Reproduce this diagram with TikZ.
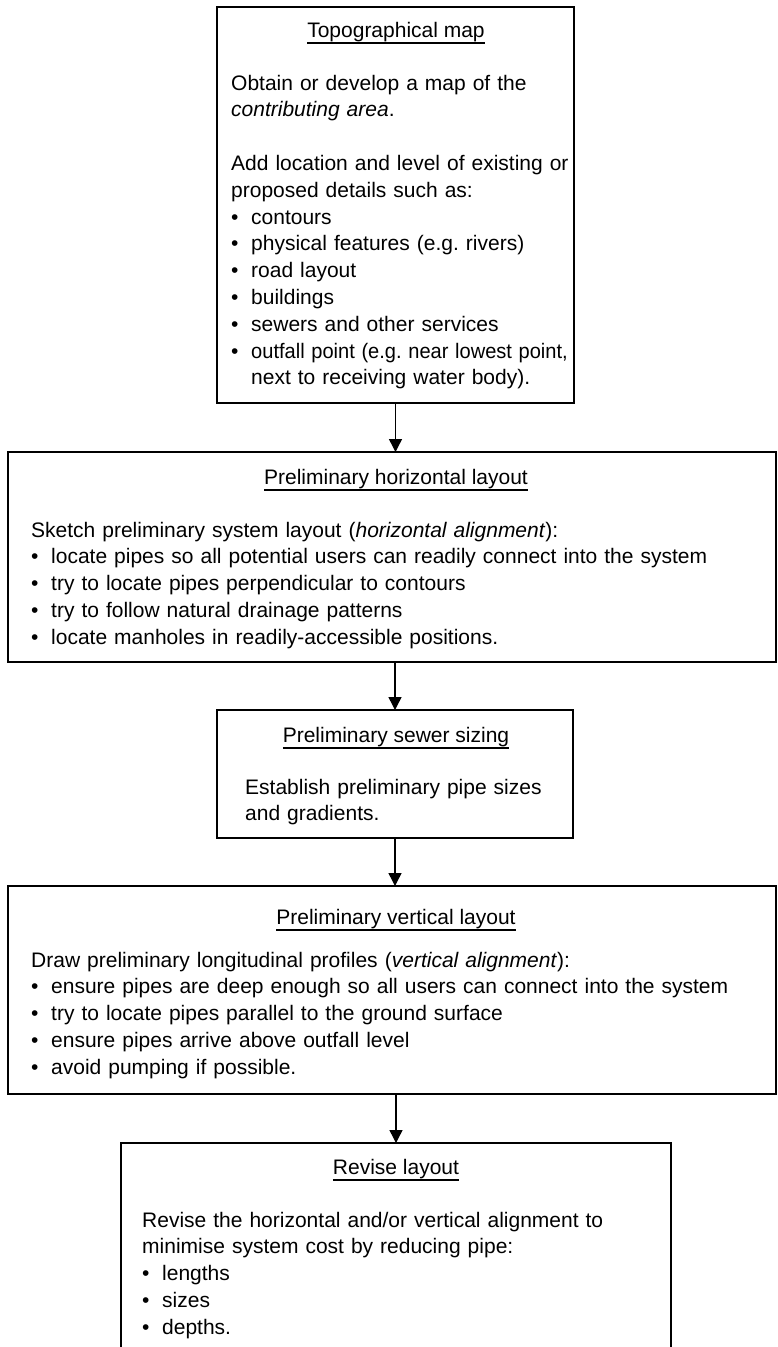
\documentclass[tikz,border=0pt]{standalone}
\usepackage{fontspec}
\usepackage{graphicx}
\setmainfont{Liberation Sans}
\usetikzlibrary{arrows.meta}
\frenchspacing
\newsavebox\ttlbox
\newcommand{\ttl}[1]{\sbox\ttlbox{#1}\rlap{\rule[-7pt]{\wd\ttlbox}{2.4pt}}\usebox\ttlbox}
\newcommand{\bul}{\makebox[20pt][l]{\textbullet}}
\newcommand{\ind}{\hspace*{20pt}}
\tikzset{
  box/.style={draw, line width=1.4pt, inner sep=0pt, outer sep=0pt, anchor=north west},
  openbox/.style={draw=none, inner sep=0pt, outer sep=0pt, anchor=north west},
  sides/.style={line width=1.4pt},
  ttlnode/.style={anchor=base, inner sep=0pt, font=\fontsize{21pt}{26.8pt}\selectfont},
  body/.style={anchor=base west, inner sep=0pt, align=left, text width=740pt, font=\fontsize{21pt}{26.8pt}\selectfont\frenchspacing},
  arr/.style={line width=1.4pt, -{Triangle[length=13pt,width=13pt]}}
}
\begin{document}
\begin{tikzpicture}[x=1pt,y=-1pt]
\useasboundingbox (0,0) rectangle (778,1347);
% boxes
\node[box, minimum width=357pt, minimum height=396pt] (b1) at (217,7) {};
\node[box, minimum width=768pt, minimum height=210pt] (b2) at (8,452) {};
\node[box, minimum width=356pt, minimum height=128pt] (b3) at (217,710) {};
\node[box, minimum width=768pt, minimum height=208pt] (b4) at (8,886) {};
\node[openbox, minimum width=550pt, minimum height=204pt] (b5) at (121,1143) {};
\draw[sides] (b5.south west) |- (b5.north east) -- (b5.south east);
% box 1
\node[ttlnode] (t1) at (396,37) {\ttl{Topographical map}};
\node[body] (x1) at (231,90) {Obtain or develop a map of the\\
\textit{contributing area}.\\[26.8pt]
Add location and level of existing or\\
proposed details such as:\\
\bul contours\\
\bul physical features (e.g. rivers)\\
\bul road layout\\
\bul buildings\\
\bul sewers and other services\\
\bul \scalebox{0.955}[1]{outfall point (e.g. near lowest point,}\\
\ind next to receiving water body).};
% box 2
\node[ttlnode] (t2) at (396,484) {\ttl{Preliminary horizontal layout}};
\node[body] (x2) at (31,537) {Sketch preliminary system layout (\textit{horizontal alignment}):\\
\bul locate pipes so all potential users can readily connect into the system\\
\bul try to locate pipes perpendicular to contours\\
\bul try to follow natural drainage patterns\\
\bul locate manholes in readily-accessible positions.};
% box 3
\node[ttlnode] (t3) at (396,742) {\ttl{Preliminary sewer sizing}};
\node[body] (x3) at (245,794) {Establish preliminary pipe sizes\\
and gradients.};
% box 4
\node[ttlnode] (t4) at (396,924) {\ttl{Preliminary vertical layout}};
\node[body] (x4) at (31,967) {Draw preliminary longitudinal profiles (\textit{vertical alignment}):\\
\bul ensure pipes are deep enough so all users can connect into the system\\
\bul try to locate pipes parallel to the ground surface\\
\bul ensure pipes arrive above outfall level\\
\bul avoid pumping if possible.};
% box 5
\node[ttlnode] (t5) at (396,1174) {\ttl{Revise layout}};
\node[body] (x5) at (142,1227) {Revise the horizontal and/or vertical alignment to\\
minimise system cost by reducing pipe:\\
\bul lengths\\
\bul sizes\\
\bul depths.};
% arrows
\draw[arr] (b1.south) -- (b1.south |- b2.north);
\draw[arr] (b3.north |- b2.south) -- (b3.north);
\draw[arr] (b3.south) -- (b3.south |- b4.north);
\draw[arr] (b5.north |- b4.south) -- (b5.north);
\end{tikzpicture}
\end{document}
